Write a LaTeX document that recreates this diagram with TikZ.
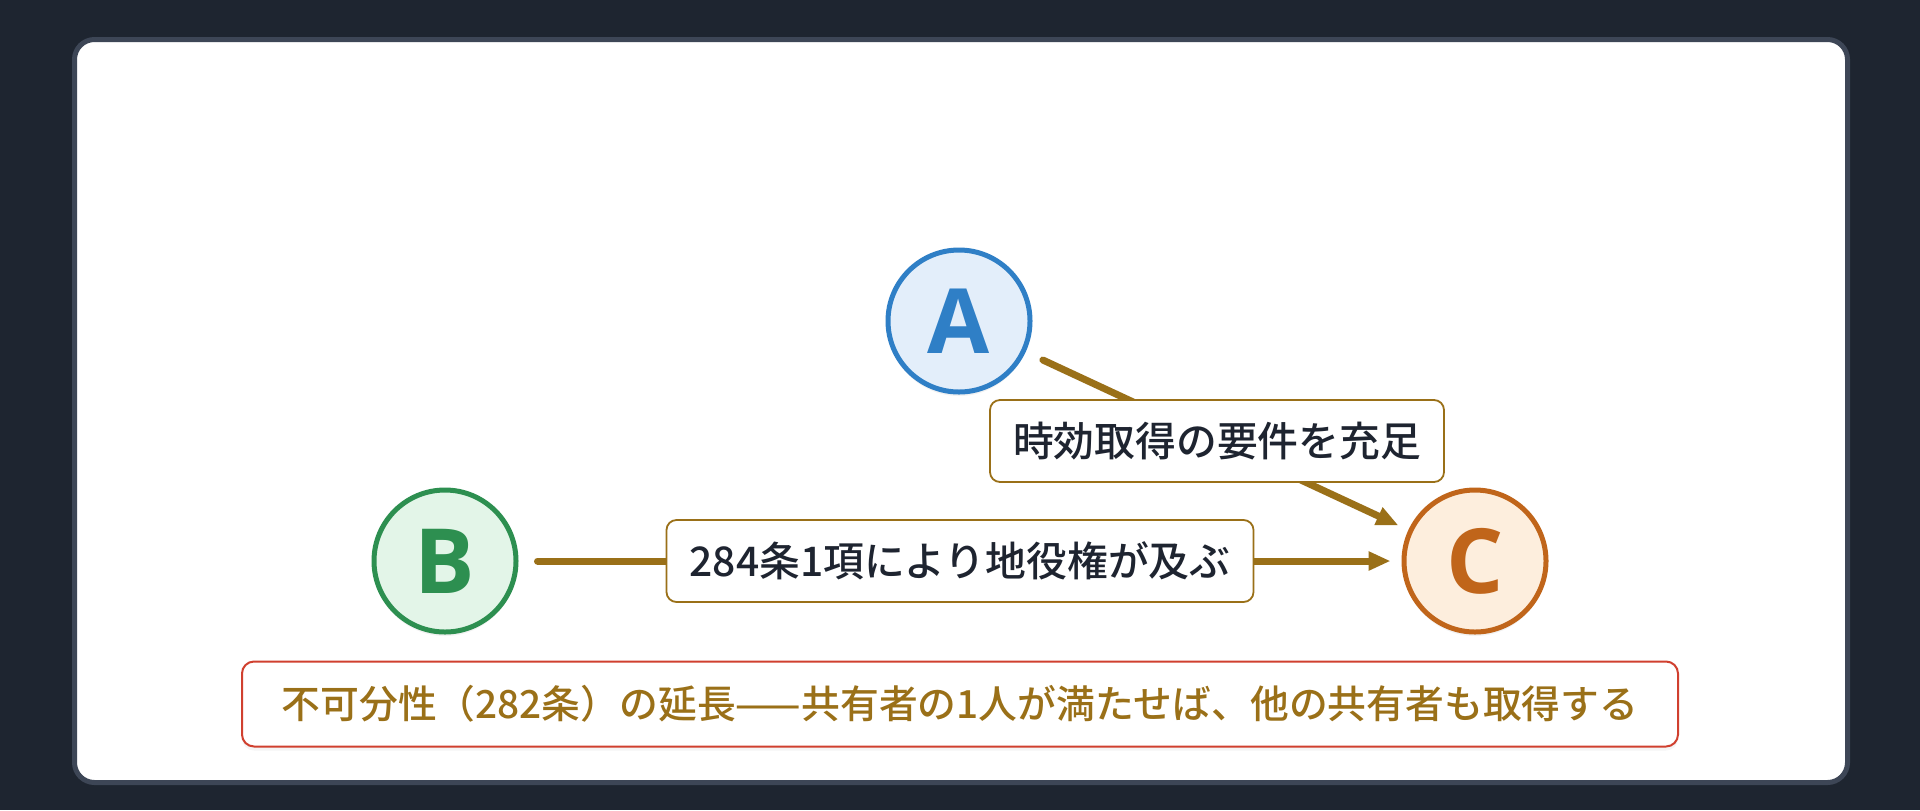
\documentclass[tikz,border=0pt]{standalone}
\usepackage{fontspec}
\setmainfont{Noto Sans CJK JP}[UprightFont=* Medium]
\newfontfamily\letterfont{Open Sans}
\usetikzlibrary{arrows.meta, shadows}
\definecolor{page}{RGB}{30, 37, 48}
\definecolor{frame}{RGB}{61, 70, 86}
\definecolor{blueline}{RGB}{47, 127, 198}
\definecolor{bluefill}{RGB}{227, 238, 250}
\definecolor{greenline}{RGB}{45, 143, 80}
\definecolor{greenfill}{RGB}{227, 245, 232}
\definecolor{orangeline}{RGB}{192, 101, 26}
\definecolor{orangefill}{RGB}{253, 238, 221}
\definecolor{gold}{RGB}{154, 112, 24}
\definecolor{ink}{RGB}{30, 36, 48}
\definecolor{alert}{RGB}{208, 64, 47}
\begin{document}
\begin{tikzpicture}[x=0.5pt, y=-0.5pt,
  party/.style={circle, line width=2.5pt, minimum size=71pt, inner sep=0pt,
    font=\letterfont\bfseries\fontsize{45}{45}\selectfont,
    drop shadow={shadow xshift=0pt, shadow yshift=-2pt, opacity=0.10}},
  link/.style={gold, line width=3.5pt, line cap=round,
    -{Triangle[length=11pt, width=9pt]}, shorten <=9.5pt, shorten >=5.5pt},
  tag/.style={draw=gold, line width=0.9pt, fill=white, rounded corners=5pt,
    text=ink, minimum height=41pt, inner xsep=11.5pt,
    font=\fontsize{20.4}{24}\selectfont},
  note/.style={draw=alert, line width=1pt, fill=white, rounded corners=6pt,
    text=gold, minimum width=718pt, minimum height=42.5pt,
    font=\fontsize{19.4}{23}\selectfont,
    drop shadow={shadow xshift=0pt, shadow yshift=-2pt, opacity=0.08}}]

  % page and card
  \fill[page] (0, 0) rectangle (1920, 810);
  \draw[frame, line width=2.5pt, fill=white, rounded corners=10pt]
    (74.5, 39.5) rectangle (1847.5, 782.5);

  % parties
  \node[party, draw=blueline, fill=bluefill, text=blueline] (a) at (959, 321) {A};
  \node[party, draw=greenline, fill=greenfill, text=greenline] (b) at (445, 561) {B};
  \node[party, draw=orangeline, fill=orangefill, text=orangeline] (c) at (1475, 561) {C};

  % links
  \draw[link] (a) -- node[tag] {時効取得の要件を充足} (c);
  \draw[link] (b) -- node[tag] {284条1項により地役権が及ぶ} (c);

  % bottom note
  \node[note] (rule) at (960, 704)
    {不可分性（282条）の延長——共有者の1人が満たせば、他の共有者も取得する};

\end{tikzpicture}
\end{document}
